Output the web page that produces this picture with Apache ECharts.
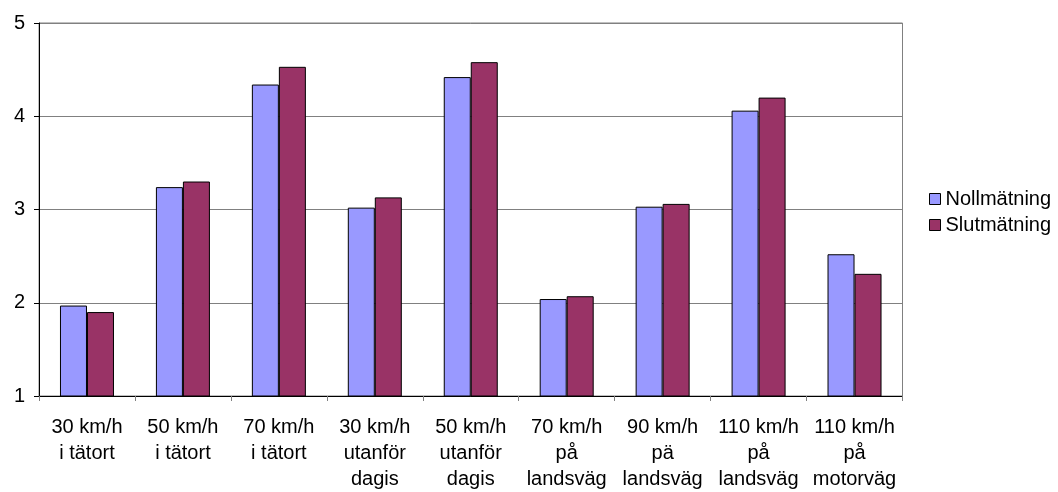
<!DOCTYPE html>
<html>
<head>
<meta charset="utf-8">
<script src="https://cdn.jsdelivr.net/npm/echarts@6/dist/echarts.min.js"></script>
<style>
  html, body { margin: 0; padding: 0; background: #fff; }
  #chart { width: 1058px; height: 492px; }
</style>
</head>
<body>
<div id="chart"></div>
<script>
// Speed-limit categories along the x axis
const categories = [
  '30 km/h\ni tätort',
  '50 km/h\ni tätort',
  '70 km/h\ni tätort',
  '30 km/h\nutanför\ndagis',
  '50 km/h\nutanför\ndagis',
  '70 km/h\npå\nlandsväg',
  '90 km/h\npä\nlandsväg',
  '110 km/h\npå\nlandsväg',
  '110 km/h\npå\nmotorväg'
];

// Values per measurement round
const nollmatning = [1.97, 3.24, 4.34, 3.02, 4.42, 2.04, 3.03, 4.06, 2.52];
const slutmatning = [1.90, 3.30, 4.53, 3.13, 4.58, 2.07, 3.06, 4.20, 2.31];

// Value axis range
const yMin = 1, yMax = 5, yStep = 1;

const FONT = '"Liberation Sans", Arial, sans-serif';

const chart = echarts.init(document.getElementById('chart'), null, { renderer: 'canvas' });

chart.setOption({
  animation: false,
  backgroundColor: '#ffffff',
  grid: {
    left: 39, right: 155.5, top: 23, bottom: 94.3,
    show: true, borderColor: '#808080', borderWidth: 1, backgroundColor: 'transparent'
  },
  legend: {
    orient: 'vertical',
    left: 929, top: 189,
    padding: 0,
    itemWidth: 11, itemHeight: 11, itemGap: 6,
    icon: 'rect',
    itemStyle: { borderColor: '#000', borderWidth: 1 },
    textStyle: { fontFamily: FONT, fontSize: 20, color: '#000', lineHeight: 20 },
    data: ['Nollmätning', 'Slutmätning']
  },
  xAxis: {
    type: 'category',
    data: categories,
    axisLine: { lineStyle: { color: '#000', width: 1 } },
    axisTick: { show: true, length: 5, lineStyle: { color: '#808080' } },
    axisLabel: {
      interval: 0, margin: 18,
      fontFamily: FONT, fontSize: 20, lineHeight: 26, color: '#000', align: 'center'
    }
  },
  yAxis: {
    type: 'value',
    min: yMin, max: yMax, interval: yStep,
    axisLine: { show: true, lineStyle: { color: '#000', width: 1 } },
    axisTick: { show: true, length: 5, lineStyle: { color: '#000' } },
    axisLabel: { margin: 14, fontFamily: FONT, fontSize: 20, color: '#000' },
    splitLine: { show: true, lineStyle: { color: '#808080', width: 1 } }
  },
  series: [
    {
      name: 'Nollmätning', type: 'bar', data: nollmatning,
      barWidth: 27, barGap: '0%',
      itemStyle: { color: '#9999FF', borderColor: '#000', borderWidth: 1 }
    },
    {
      name: 'Slutmätning', type: 'bar', data: slutmatning,
      barWidth: 27, barGap: '0%',
      itemStyle: { color: '#993366', borderColor: '#000', borderWidth: 1 }
    }
  ]
});
</script>
</body>
</html>
